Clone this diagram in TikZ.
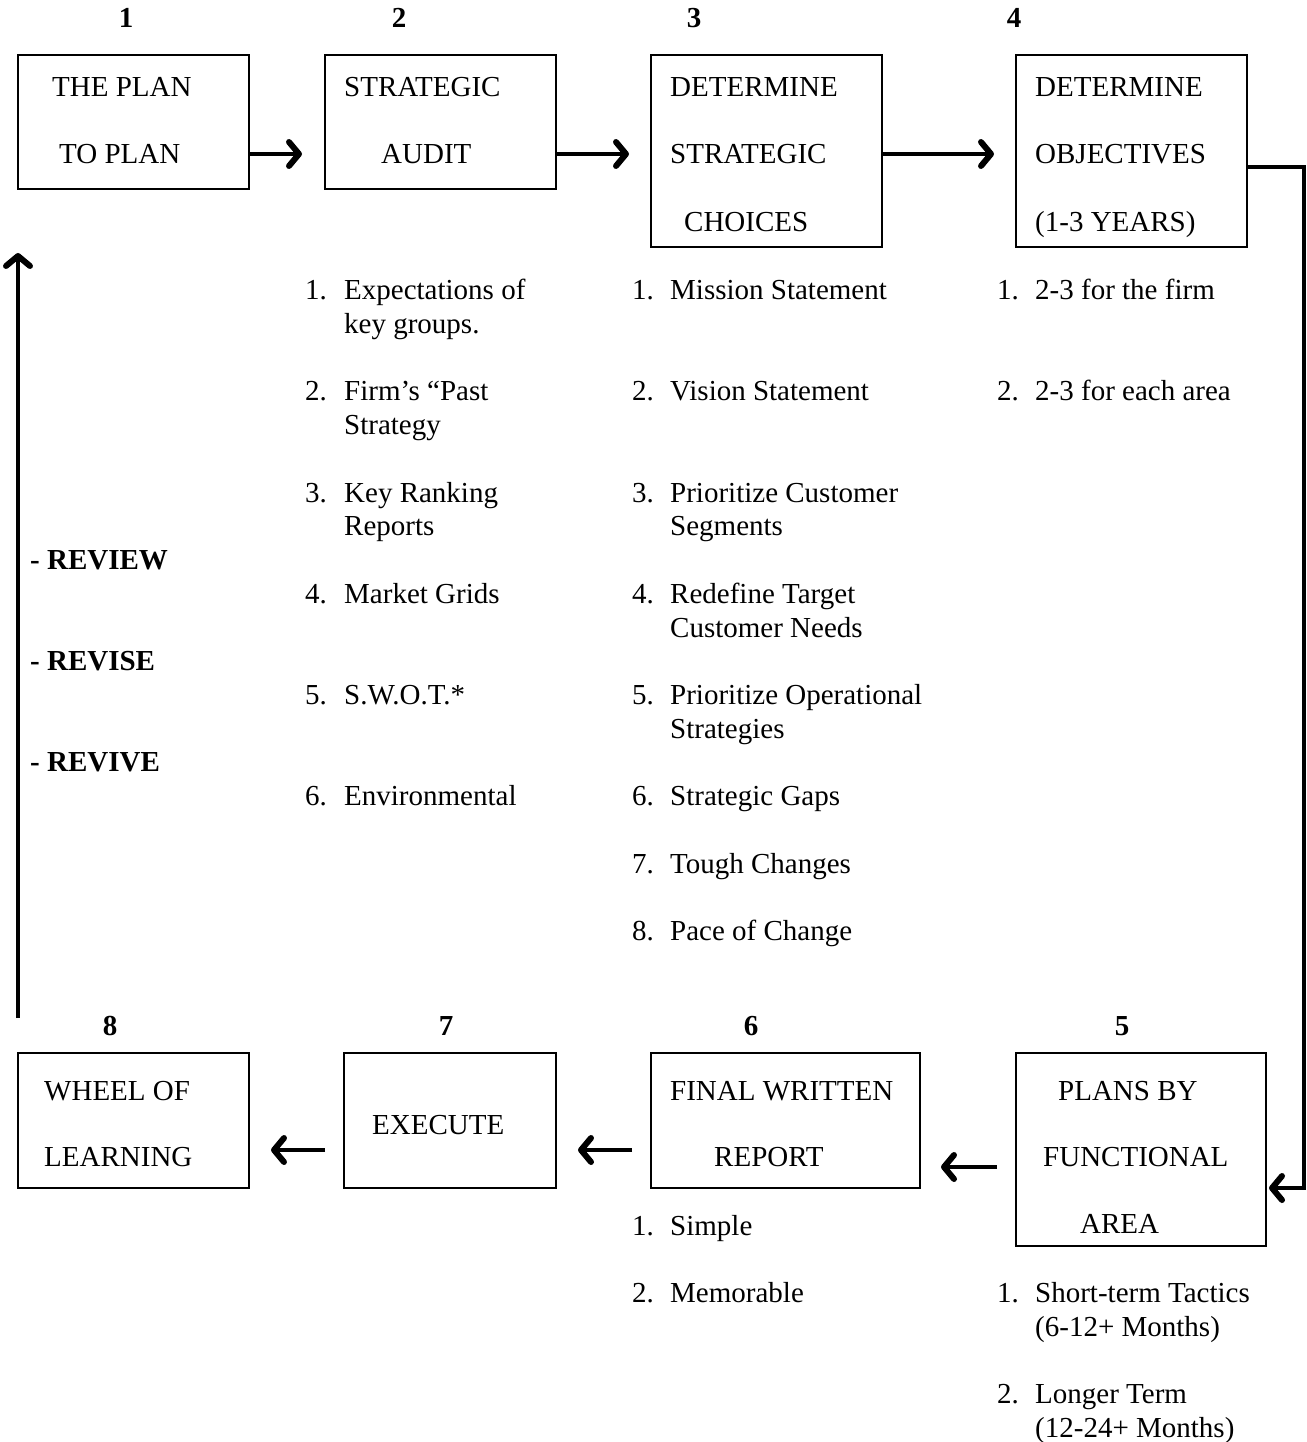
\documentclass[tikz,border=0pt]{standalone}
\usepackage{fontspec}
\setmainfont{Liberation Serif}
\usetikzlibrary{arrows.meta}
\begin{document}
\begin{tikzpicture}[x=1pt,y=-1pt,
  txt/.style={anchor=base west,inner sep=0pt,font=\fontsize{29}{34}\selectfont},
  num/.style={anchor=base,inner sep=0pt,font=\fontsize{29}{34}\selectfont\bfseries},
  bold/.style={anchor=base west,inner sep=0pt,font=\fontsize{29}{34}\selectfont\bfseries},
  box/.style={draw,line width=2pt,inner sep=0pt},
  arr/.style={line width=4pt,-{Straight Barb[length=10pt,width=24pt,line width=6pt,round]}},
  conn/.style={line width=4pt}]
\useasboundingbox (0,0) rectangle (1306,1442);
% numbers
\node[num] (n1) at (126,28) {1};
\node[num] (n2) at (399,28) {2};
\node[num] (n3) at (694,28) {3};
\node[num] (n4) at (1014,28) {4};
\node[num] (n8) at (110,1035) {8};
\node[num] (n7) at (446,1035) {7};
\node[num] (n6) at (751,1035) {6};
\node[num] (n5) at (1122,1035) {5};
% boxes
\node[box,minimum width=231pt,minimum height=134pt] (b1) at (133.5,122) {};
\node[box,minimum width=231pt,minimum height=134pt] (b2) at (440.5,122) {};
\node[box,minimum width=231pt,minimum height=192pt] (b3) at (766.5,151) {};
\node[box,minimum width=231pt,minimum height=192pt] (b4) at (1131.5,151) {};
\node[box,minimum width=231pt,minimum height=135pt] (b8) at (133.5,1120.5) {};
\node[box,minimum width=212pt,minimum height=135pt] (b7) at (450,1120.5) {};
\node[box,minimum width=269pt,minimum height=135pt] (b6) at (785.5,1120.5) {};
\node[box,minimum width=250pt,minimum height=193pt] (b5) at (1141,1149.5) {};
% box texts
\node[txt] (t1a) at (52,97) {THE PLAN};
\node[txt] (t1b) at (59,164) {TO PLAN};
\node[txt] (t2a) at (344,97) {STRATEGIC};
\node[txt] (t2b) at (381,164) {AUDIT};
\node[txt] (t3a) at (670,97) {DETERMINE};
\node[txt] (t3b) at (670,164) {STRATEGIC};
\node[txt] (t3c) at (684,231) {CHOICES};
\node[txt] (t4a) at (1035,97) {DETERMINE};
\node[txt] (t4b) at (1035,164) {OBJECTIVES};
\node[txt] (t4c) at (1035,231) {(1-3 YEARS)};
\node[txt] (t8a) at (44,1100) {WHEEL OF};
\node[txt] (t8b) at (44,1166) {LEARNING};
\node[txt] (t7a) at (372,1134) {EXECUTE};
\node[txt] (t6a) at (670,1100) {FINAL WRITTEN};
\node[txt] (t6b) at (714,1166) {REPORT};
\node[txt] (t5a) at (1058,1100) {PLANS BY};
\node[txt] (t5b) at (1043,1166) {FUNCTIONAL};
\node[txt] (t5c) at (1080,1233) {AREA};
% review labels
\node[bold] (r1) at (30,569) {- REVIEW};
\node[bold] (r2) at (30,670) {- REVISE};
\node[bold] (r3) at (30,771) {- REVIVE};
% column 2 list
\node[txt] (c2n1) at (305,299) {1.};
\node[txt] (c2t1) at (344,299) {Expectations of};
\node[txt] (c2t1b) at (344,333) {key groups.};
\node[txt] (c2n2) at (305,400) {2.};
\node[txt] (c2t2) at (344,400) {Firm’s “Past};
\node[txt] (c2t2b) at (344,434) {Strategy};
\node[txt] (c2n3) at (305,502) {3.};
\node[txt] (c2t3) at (344,502) {Key Ranking};
\node[txt] (c2t3b) at (344,535) {Reports};
\node[txt] (c2n4) at (305,603) {4.};
\node[txt] (c2t4) at (344,603) {Market Grids};
\node[txt] (c2n5) at (305,704) {5.};
\node[txt] (c2t5) at (344,704) {S.W.O.T.*};
\node[txt] (c2n6) at (305,805) {6.};
\node[txt] (c2t6) at (344,805) {Environmental};
% column 3 list
\node[txt] (c3n1) at (632,299) {1.};
\node[txt] (c3t1) at (670,299) {Mission Statement};
\node[txt] (c3n2) at (632,400) {2.};
\node[txt] (c3t2) at (670,400) {Vision Statement};
\node[txt] (c3n3) at (632,502) {3.};
\node[txt] (c3t3) at (670,502) {Prioritize Customer};
\node[txt] (c3t3b) at (670,535) {Segments};
\node[txt] (c3n4) at (632,603) {4.};
\node[txt] (c3t4) at (670,603) {Redefine Target};
\node[txt] (c3t4b) at (670,637) {Customer Needs};
\node[txt] (c3n5) at (632,704) {5.};
\node[txt] (c3t5) at (670,704) {Prioritize Operational};
\node[txt] (c3t5b) at (670,738) {Strategies};
\node[txt] (c3n6) at (632,805) {6.};
\node[txt] (c3t6) at (670,805) {Strategic Gaps};
\node[txt] (c3n7) at (632,873) {7.};
\node[txt] (c3t7) at (670,873) {Tough Changes};
\node[txt] (c3n8) at (632,940) {8.};
\node[txt] (c3t8) at (670,940) {Pace of Change};
% column 4 list
\node[txt] (c4n1) at (997,299) {1.};
\node[txt] (c4t1) at (1035,299) {2-3 for the firm};
\node[txt] (c4n2) at (997,400) {2.};
\node[txt] (c4t2) at (1035,400) {2-3 for each area};
% column 6 list
\node[txt] (c6n1) at (632,1235) {1.};
\node[txt] (c6t1) at (670,1235) {Simple};
\node[txt] (c6n2) at (632,1302) {2.};
\node[txt] (c6t2) at (670,1302) {Memorable};
% column 5 list
\node[txt] (c5n1) at (997,1302) {1.};
\node[txt] (c5t1) at (1035,1302) {Short-term Tactics};
\node[txt] (c5t1b) at (1035,1336) {(6-12+ Months)};
\node[txt] (c5n2) at (997,1403) {2.};
\node[txt] (c5t2) at (1035,1403) {Longer Term};
\node[txt] (c5t2b) at (1035,1437) {(12-24+ Months)};
% connector coordinates
\coordinate (a12) at (302,154);
\coordinate (a23) at (629,154);
\coordinate (a34) at (994,154);
\coordinate (s56) at (997,1167);
\coordinate (a56) at (941,1167);
\coordinate (s67) at (632,1150);
\coordinate (a67) at (578,1150);
\coordinate (s78) at (325,1150);
\coordinate (a78) at (271,1150);
\coordinate (rc1) at (1304,167);
\coordinate (rc2) at (1304,1188);
\coordinate (ls) at (18,1018);
\coordinate (le) at (18,253);
% connectors
\draw[arr] (b1.east |- a12) -- (a12);
\draw[arr] (b2.east |- a23) -- (a23);
\draw[arr] (b3.east |- a34) -- (a34);
\draw[arr] (s56) -- (a56);
\draw[arr] (s67) -- (a67);
\draw[arr] (s78) -- (a78);
\draw[arr,line join=miter] (b4.east |- rc1) -- (rc1) -- (rc2) -- ([xshift=2pt]b5.east |- rc2);
\draw[arr] (ls) -- (le);
\end{tikzpicture}
\end{document}
